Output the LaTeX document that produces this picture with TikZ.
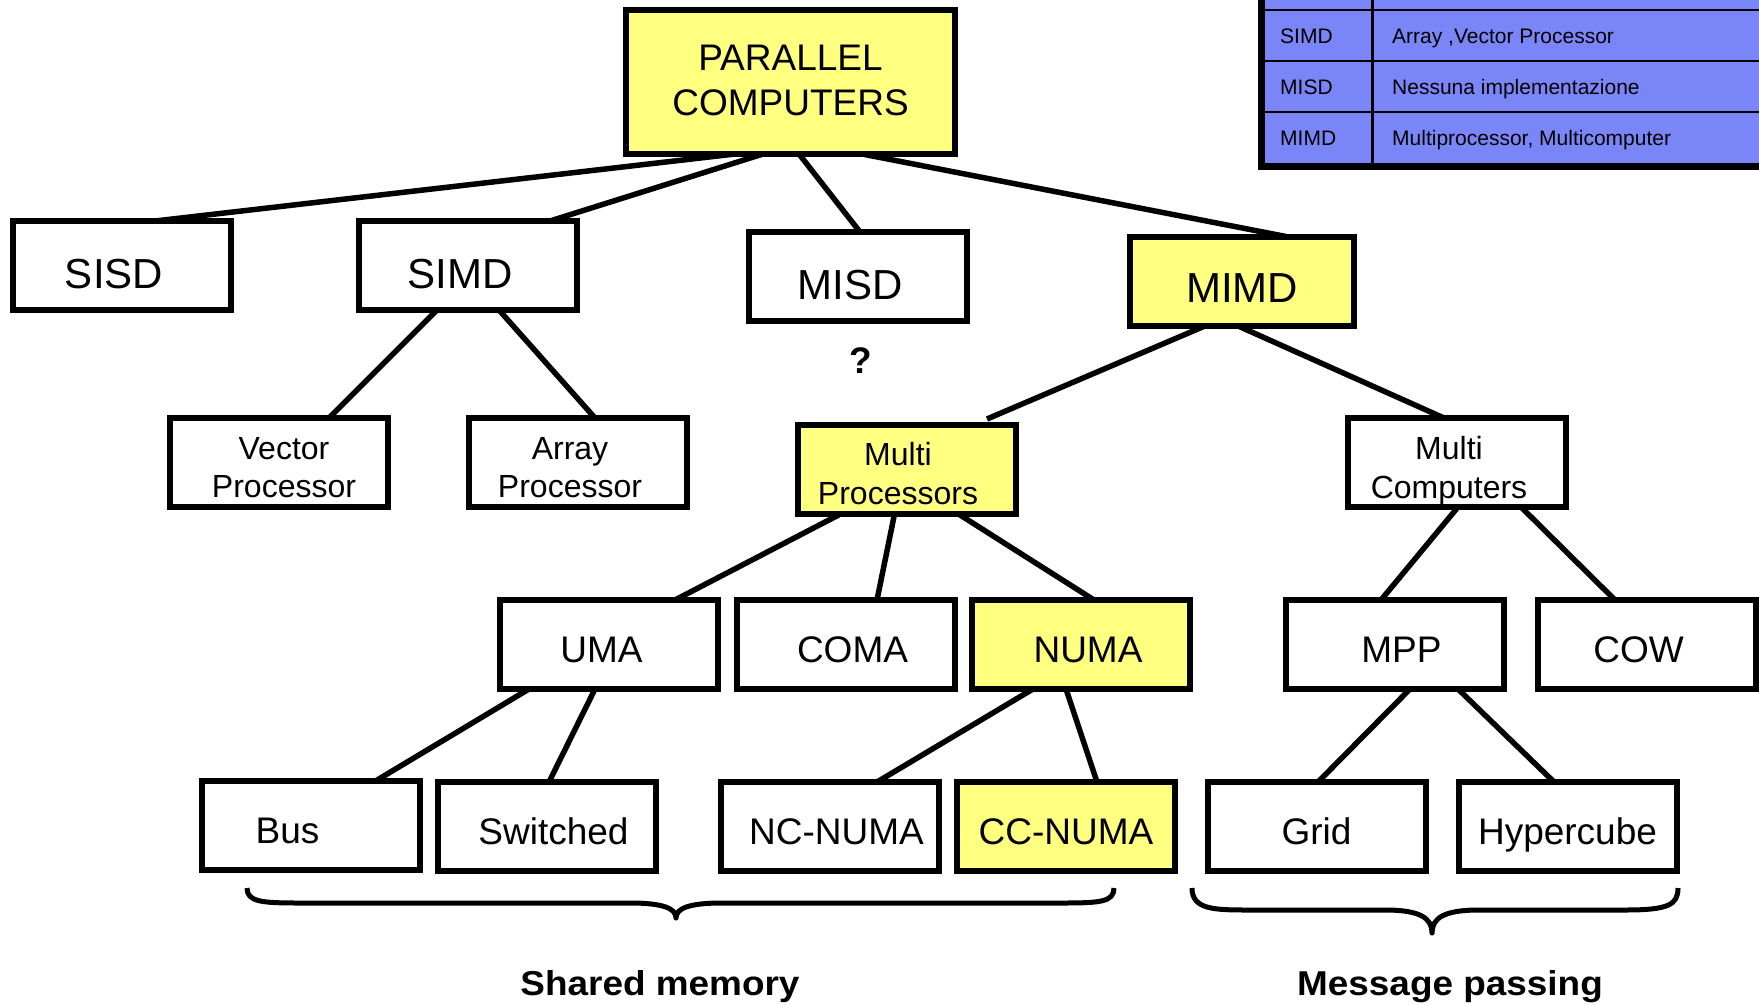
\documentclass[tikz,border=0pt]{standalone}
\usepackage{fontspec}
\setmainfont{Liberation Sans}
\usetikzlibrary{calc}
\definecolor{yel}{RGB}{255,255,128}
\definecolor{tblue}{RGB}{122,134,248}
\begin{document}
\begin{tikzpicture}[x=1pt,y=-1pt,
  boxst/.style={draw,line width=6pt,minimum width=218pt,minimum height=89pt,inner sep=0pt,outer sep=0pt,fill=white},
  big/.style={font=\fontsize{42}{50}\selectfont,text height=30pt,text depth=0pt,inner sep=0pt},
  med/.style={font=\fontsize{37}{44}\selectfont,text height=26.5pt,text depth=0pt,inner sep=0pt},
  two/.style={font=\fontsize{32}{38.5}\selectfont,align=center,inner sep=0pt},
  conn/.style={line width=5.5pt},
  brc/.style={line width=5pt,line join=round},
  tbl/.style={font=\fontsize{21}{25}\selectfont,inner sep=0pt,anchor=base west},
  lab/.style={font=\fontsize{34.5}{40}\selectfont\bfseries,inner sep=0pt,anchor=base,xscale=1.07}]
\useasboundingbox (0,0) rectangle (1759,1004);
\clip (0,0) rectangle (1759,1004);

% ---- table (top right)
\fill[tblue] (1262,-10) rectangle (1770,165);
\draw[line width=2.5pt] (1262,10) -- (1770,10) (1262,61) -- (1770,61) (1262,112) -- (1770,112);
\draw[line width=3pt] (1372,-10) -- (1372,165);
\draw[line width=7pt] (1261,-10) -- (1261,166) -- (1770,166);
\node[tbl] (t1a) at (1280,43) {SIMD};
\node[tbl] (t1b) at (1392,43) {Array ,Vector Processor};
\node[tbl] (t2a) at (1280,94) {MISD};
\node[tbl] (t2b) at (1392,94) {Nessuna implementazione};
\node[tbl] (t3a) at (1280,145) {MIMD};
\node[tbl] (t3b) at (1392,145) {Multiprocessor, Multicomputer};

% ---- boxes
\node[boxst,fill=yel,minimum width=329pt,minimum height=144pt] (pc) at (790.5,82) {};
\node[font=\fontsize{37}{45}\selectfont,align=center,inner sep=0pt] (pct) at ([shift={(0,-2)}]pc.center) {PARALLEL\\COMPUTERS};

\node[boxst] (sisd) at (122,265.5) {};
\node[big] (sisdt) at ([shift={(-8,8)}]sisd.center) {SISD};
\node[boxst] (simd) at (468,265.5) {};
\node[big] (simdt) at ([shift={(-8,8)}]simd.center) {SIMD};
\node[boxst] (misd) at (858,276.5) {};
\node[big] (misdt) at ([shift={(-8,8)}]misd.center) {MISD};
\node[boxst,fill=yel,minimum width=224pt] (mimd) at (1242,281) {};
\node[big] (mimdt) at ([shift={(0,6)}]mimd.center) {MIMD};

\node[font=\fontsize{37}{40}\selectfont\bfseries,inner sep=0pt] (q) at (861,361) {?};

\node[boxst] (vec) at (279,462.5) {};
\node[two] (vect) at ([shift={(5,5)}]vec.center) {Vector\\Processor};
\node[boxst] (arr) at (578,462.5) {};
\node[two] (arrt) at ([shift={(-8,5)}]arr.center) {Array\\Processor};
\node[boxst,fill=yel] (mp) at (907,469.5) {};
\node[two] (mpt) at ([shift={(-9,4)}]mp.center) {Multi\\Processors};
\node[boxst] (mc) at (1457,462.5) {};
\node[two] (mct) at ([shift={(-8,8)}]mc.center) {Multi\\Computers};

\node[boxst] (uma) at (608.5,644.5) {};
\node[med] (umat) at ([shift={(-7,5)}]uma.center) {UMA};
\node[boxst] (coma) at (845.5,644.5) {};
\node[med] (comat) at ([shift={(7,5)}]coma.center) {COMA};
\node[boxst,fill=yel] (numa) at (1081,644.5) {};
\node[med] (numat) at ([shift={(7,5)}]numa.center) {NUMA};
\node[boxst] (mpp) at (1394.5,644.5) {};
\node[med] (mppt) at ([shift={(7,5)}]mpp.center) {MPP};
\node[boxst] (cow) at (1646.5,644.5) {};
\node[med] (cowt) at ([shift={(-8,5)}]cow.center) {COW};

\node[boxst] (bus) at (310.5,825.5) {};
\node[med] (bust) at ([shift={(-23,5)}]bus.center) {Bus};
\node[boxst] (sw) at (546.5,826.5) {};
\node[med] (swt) at ([shift={(7,5)}]sw.center) {Switched};
\node[boxst] (nc) at (829.5,826.5) {};
\node[med] (nct) at ([shift={(7,5)}]nc.center) {NC-NUMA};
\node[boxst,fill=yel] (cc) at (1066,826.5) {};
\node[med] (cct) at ([shift={(0,5)}]cc.center) {CC-NUMA};
\node[boxst] (grid) at (1316.5,826.5) {};
\node[med] (gridt) at ([shift={(0,5)}]grid.center) {Grid};
\node[boxst] (hyp) at (1567.5,826.5) {};
\node[med] (hypt) at ([shift={(0,5)}]hyp.center) {Hypercube};

% ---- connectors
\draw[conn] ([xshift=-55.5pt]pc.south) -- ([xshift=33pt]sisd.north);
\draw[conn] ([xshift=-27.5pt]pc.south) -- ([xshift=82pt]simd.north);
\draw[conn] ([xshift=8.5pt]pc.south) -- ([xshift=2pt]misd.north);
\draw[conn] ([xshift=71.5pt]pc.south) -- ([xshift=44pt]mimd.north);
\draw[conn] ([xshift=-31pt]simd.south) -- ([xshift=50pt]vec.north);
\draw[conn] ([xshift=31pt]simd.south) -- ([xshift=17pt]arr.north);
\draw[conn] ([xshift=-36pt]mimd.south) -- ([xshift=80pt,yshift=6pt]mp.north);
\draw[conn] ([xshift=-5pt]mimd.south) -- ([xshift=-13pt]mc.north);
\draw[conn] ([xshift=-66.5pt]mp.south) -- ([xshift=66.5pt]uma.north);
\draw[conn] ([xshift=-12.5pt]mp.south) -- ([xshift=31.5pt]coma.north);
\draw[conn] ([xshift=51.5pt]mp.south) -- ([xshift=13pt]numa.north);
\draw[conn] ([xshift=1pt]mc.south) -- ([xshift=-13.5pt]mpp.north);
\draw[conn] ([xshift=64pt]mc.south) -- ([xshift=-31.5pt]cow.north);
\draw[conn] ([xshift=-79.5pt]uma.south) -- ([xshift=65pt]bus.north);
\draw[conn] ([xshift=-13.5pt]uma.south) -- ([xshift=2.5pt]sw.north);
\draw[conn] ([xshift=-48pt]numa.south) -- ([xshift=47.5pt]nc.north);
\draw[conn] ([xshift=-15pt]numa.south) -- ([xshift=31pt]cc.north);
\draw[conn] ([xshift=15.5pt]mpp.south) -- ([xshift=1.5pt]grid.north);
\draw[conn] ([xshift=63.5pt]mpp.south) -- ([xshift=-13.5pt]hyp.north);

% ---- braces
\draw[brc] (247,888) .. controls (247,902) and (262,903) .. (300,903) -- (630,903)
  .. controls (662,903) and (676,908) .. (676,918)
  .. controls (676,908) and (690,903) .. (722,903) -- (1062,903)
  .. controls (1100,903) and (1114,902) .. (1114,888);
\draw[brc] (1192,888) .. controls (1192,910) and (1215,910) .. (1250,910) -- (1385,910)
  .. controls (1420,910) and (1432,918) .. (1432,933)
  .. controls (1432,918) and (1444,910) .. (1479,910) -- (1625,910)
  .. controls (1668,910) and (1678,905) .. (1678,888);

\node[lab] (shm) at (660,995) {Shared memory};
\node[lab] (msg) at (1450,995) {Message passing};
\end{tikzpicture}
\end{document}
